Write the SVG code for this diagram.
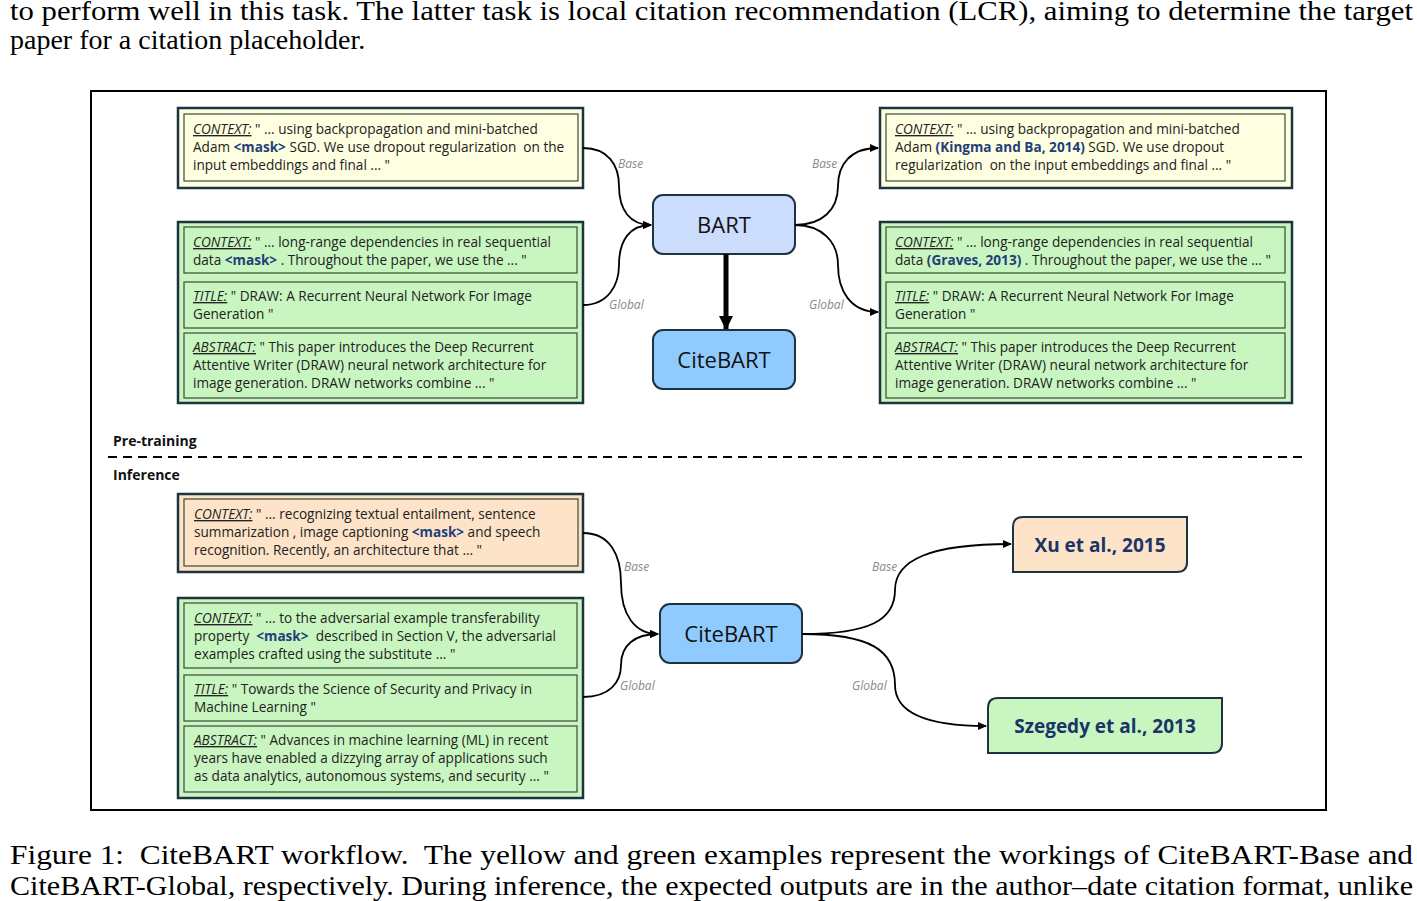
<svg xmlns="http://www.w3.org/2000/svg" width="1417" height="901" viewBox="0 0 1417 901">
<style>
.page{font-family:"Liberation Serif","Times New Roman",serif;font-size:28px;fill:#000}
.bt{font-family:"Open Sans","Liberation Sans",sans-serif;font-size:13.6px;fill:#222}
.lab{font-style:italic;text-decoration:underline}
.mask{font-weight:bold;fill:#1f3f7a}
.outer{stroke:#1d3440;stroke-width:2.5}
.inner{fill:none;stroke:#3a4a3a;stroke-width:1.2}
.yel{fill:#fefee0}
.grn{fill:#c9f6c0}
.pch{fill:#fde3c8}
.node{stroke:#1d3440;stroke-width:2}
.ntext{font-family:"Open Sans","Liberation Sans",sans-serif;font-size:22px;fill:#111;text-anchor:middle}
.otext{font-family:"Open Sans","Liberation Sans",sans-serif;font-size:19px;font-weight:bold;fill:#1a3468;text-anchor:middle}
.edge{fill:none;stroke:#000;stroke-width:1.8}
.elab{font-family:"Open Sans","Liberation Sans",sans-serif;font-size:12px;font-style:italic;fill:#8a8a8a}
.sect{font-family:"Open Sans","Liberation Sans",sans-serif;font-size:14px;font-weight:bold;fill:#111}
</style>
<defs>
<marker id="ah" markerWidth="10" markerHeight="10" refX="8" refY="5" orient="auto" markerUnits="userSpaceOnUse">
<path d="M0,1 L9,5 L0,9 Z" fill="#000"/>
</marker>
<marker id="ahb" markerWidth="16" markerHeight="16" refX="13" refY="8" orient="auto" markerUnits="userSpaceOnUse">
<path d="M0,1 L14,8 L0,15 Z" fill="#000"/>
</marker>
</defs>
<rect width="1417" height="901" fill="#fff"/>

<text class="page" x="10" y="20" font-size="27" textLength="1403" lengthAdjust="spacingAndGlyphs">to perform well in this task. The latter task is local citation recommendation (LCR), aiming to determine the target</text>
<text class="page" x="10" y="49">paper for a citation placeholder.</text>

<rect x="91" y="91" width="1235" height="719" fill="none" stroke="#000" stroke-width="2"/>

<g id="pretrain-base-in">
<rect class="outer yel" x="178" y="108" width="405" height="80"/>
<rect class="inner" x="184" y="114" width="394" height="67"/>
<text class="bt" x="193" y="134"><tspan class="lab">CONTEXT:</tspan> " ... using backpropagation and mini-batched</text>
<text class="bt" x="193" y="152">Adam <tspan class="mask">&lt;mask&gt;</tspan> SGD. We use dropout regularization&#160; on the</text>
<text class="bt" x="193" y="170">input embeddings and final ... "</text>
</g>

<g id="pretrain-global-in">
<rect class="outer grn" x="178" y="222" width="405" height="181"/>
<rect class="inner" x="184" y="227" width="393" height="46"/>
<rect class="inner" x="184" y="282" width="393" height="46"/>
<rect class="inner" x="184" y="333" width="393" height="65"/>
<text class="bt" x="193" y="247"><tspan class="lab">CONTEXT:</tspan> " ... long-range dependencies in real sequential</text>
<text class="bt" x="193" y="265">data <tspan class="mask">&lt;mask&gt;</tspan> . Throughout the paper, we use the ... "</text>
<text class="bt" x="193" y="301"><tspan class="lab">TITLE:</tspan> " DRAW: A Recurrent Neural Network For Image</text>
<text class="bt" x="193" y="319">Generation "</text>
<text class="bt" x="193" y="352"><tspan class="lab">ABSTRACT:</tspan> " This paper introduces the Deep Recurrent</text>
<text class="bt" x="193" y="370">Attentive Writer (DRAW) neural network architecture for</text>
<text class="bt" x="193" y="388">image generation. DRAW networks combine ... "</text>
</g>

<g id="pretrain-base-out">
<rect class="outer yel" x="880" y="108" width="412" height="80"/>
<rect class="inner" x="886" y="114" width="399" height="67"/>
<text class="bt" x="895" y="134"><tspan class="lab">CONTEXT:</tspan> " ... using backpropagation and mini-batched</text>
<text class="bt" x="895" y="152">Adam <tspan class="mask">(Kingma and Ba, 2014)</tspan> SGD. We use dropout</text>
<text class="bt" x="895" y="170">regularization&#160; on the input embeddings and final ... "</text>
</g>

<g id="pretrain-global-out">
<rect class="outer grn" x="880" y="222" width="412" height="181"/>
<rect class="inner" x="886" y="227" width="399" height="46"/>
<rect class="inner" x="886" y="282" width="399" height="46"/>
<rect class="inner" x="886" y="333" width="399" height="65"/>
<text class="bt" x="895" y="247"><tspan class="lab">CONTEXT:</tspan> " ... long-range dependencies in real sequential</text>
<text class="bt" x="895" y="265">data <tspan class="mask">(Graves, 2013)</tspan> . Throughout the paper, we use the ... "</text>
<text class="bt" x="895" y="301"><tspan class="lab">TITLE:</tspan> " DRAW: A Recurrent Neural Network For Image</text>
<text class="bt" x="895" y="319">Generation "</text>
<text class="bt" x="895" y="352"><tspan class="lab">ABSTRACT:</tspan> " This paper introduces the Deep Recurrent</text>
<text class="bt" x="895" y="370">Attentive Writer (DRAW) neural network architecture for</text>
<text class="bt" x="895" y="388">image generation. DRAW networks combine ... "</text>
</g>

<g id="bart">
<rect class="node" x="653" y="195" width="142" height="59" rx="10" fill="#ccdcfc"/>
<text class="ntext" x="724" y="233">BART</text>
</g>
<g id="citebart-pre">
<rect class="node" x="653" y="330" width="142" height="59" rx="10" fill="#90cbff"/>
<text class="ntext" x="724" y="368">CiteBART</text>
</g>

<g id="divider">
<text class="sect" x="113" y="446">Pre-training</text>
<line x1="108" y1="457" x2="1306" y2="457" stroke="#000" stroke-width="2" stroke-dasharray="9,6"/>
<text class="sect" x="113" y="480">Inference</text>
</g>

<g id="infer-base-in">
<rect class="outer pch" x="178" y="494" width="405" height="78"/>
<rect class="inner" x="184" y="499" width="394" height="67"/>
<text class="bt" x="194" y="519"><tspan class="lab">CONTEXT:</tspan> " ... recognizing textual entailment, sentence</text>
<text class="bt" x="194" y="537">summarization , image captioning <tspan class="mask">&lt;mask&gt;</tspan> and speech</text>
<text class="bt" x="194" y="555">recognition. Recently, an architecture that ... "</text>
</g>

<g id="infer-global-in">
<rect class="outer grn" x="178" y="598" width="405" height="200"/>
<rect class="inner" x="184" y="603" width="393" height="65"/>
<rect class="inner" x="184" y="675" width="393" height="46"/>
<rect class="inner" x="184" y="726" width="393" height="66"/>
<text class="bt" x="194" y="623"><tspan class="lab">CONTEXT:</tspan> " ... to the adversarial example transferability</text>
<text class="bt" x="194" y="641">property&#160; <tspan class="mask">&lt;mask&gt;</tspan>&#160; described in Section V, the adversarial</text>
<text class="bt" x="194" y="659">examples crafted using the substitute ... "</text>
<text class="bt" x="194" y="694"><tspan class="lab">TITLE:</tspan> " Towards the Science of Security and Privacy in</text>
<text class="bt" x="194" y="712">Machine Learning "</text>
<text class="bt" x="194" y="745"><tspan class="lab">ABSTRACT:</tspan> " Advances in machine learning (ML) in recent</text>
<text class="bt" x="194" y="763">years have enabled a dizzying array of applications such</text>
<text class="bt" x="194" y="781">as data analytics, autonomous systems, and security ... "</text>
</g>

<g id="citebart-inf">
<rect class="node" x="660" y="604" width="142" height="59" rx="10" fill="#90cbff"/>
<text class="ntext" x="731" y="642">CiteBART</text>
</g>

<g id="out-xu">
<path class="node" d="M1023,517 H1187 V562 Q1187,572 1177,572 H1013 V527 Q1013,517 1023,517 Z" fill="#fde3c8"/>
<text class="otext" x="1100" y="552">Xu et al., 2015</text>
</g>
<g id="out-szegedy">
<path class="node" d="M998,698 H1222 V743 Q1222,753 1212,753 H988 V708 Q988,698 998,698 Z" fill="#c9f6c0"/>
<text class="otext" x="1105" y="733">Szegedy et al., 2013</text>
</g>

<g id="connectors">
<path class="edge" d="M583,148 C608,148 619,165 619,186 C619,210 630,225 651,225" marker-end="url(#ah)"/>
<path class="edge" d="M583,305 C608,305 619,285 619,265 C619,240 630,225 651,225" marker-end="url(#ah)"/>
<path class="edge" d="M795,225 C822,225 838,210 838,186 C838,165 850,148 878,148" marker-end="url(#ah)"/>
<path class="edge" d="M795,225 C822,225 838,242 838,265 C838,290 850,312 878,312" marker-end="url(#ah)"/>
<line x1="726" y1="254" x2="726" y2="329" stroke="#000" stroke-width="5" marker-end="url(#ahb)"/>
<path class="edge" d="M583,533 C610,533 621,555 621,583 C621,615 635,634 658,634" marker-end="url(#ah)"/>
<path class="edge" d="M583,697 C610,697 621,682 621,665 C621,645 635,634 658,634" marker-end="url(#ah)"/>
<path class="edge" d="M802,634 C870,634 895,620 895,590 C895,560 930,544 1011,544" marker-end="url(#ah)"/>
<path class="edge" d="M802,634 C870,634 895,650 895,685 C895,715 930,726 986,726" marker-end="url(#ah)"/>
<text class="elab" x="618" y="168">Base</text>
<text class="elab" x="609" y="309">Global</text>
<text class="elab" x="812" y="168">Base</text>
<text class="elab" x="809" y="309">Global</text>
<text class="elab" x="624" y="571">Base</text>
<text class="elab" x="620" y="690">Global</text>
<text class="elab" x="872" y="571">Base</text>
<text class="elab" x="852" y="690">Global</text>
</g>

<text class="page" x="10" y="864" textLength="1403" lengthAdjust="spacingAndGlyphs">Figure 1:&#160; CiteBART workflow.&#160; The yellow and green examples represent the workings of CiteBART-Base and</text>
<text class="page" x="10" y="895" textLength="1403" lengthAdjust="spacingAndGlyphs">CiteBART-Global, respectively. During inference, the expected outputs are in the author–date citation format, unlike</text>
</svg>
